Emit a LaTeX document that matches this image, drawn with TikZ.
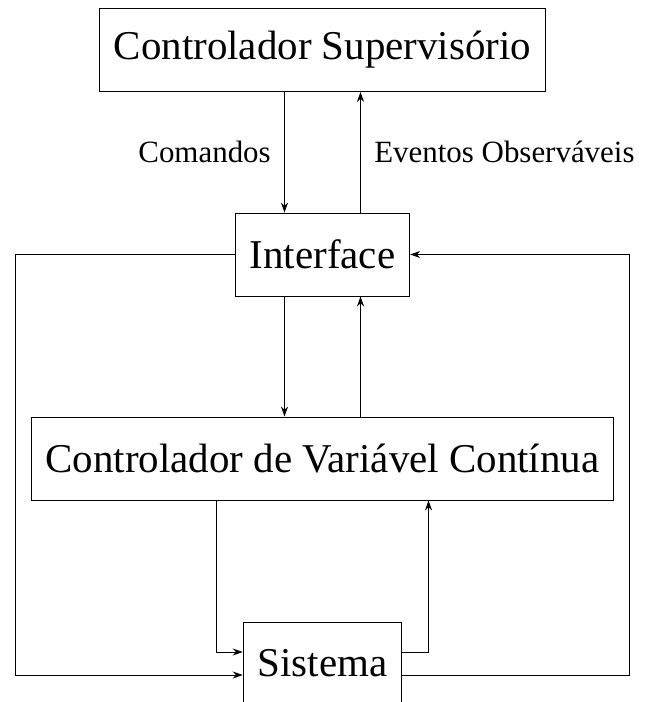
\documentclass[tikz,border=0pt]{standalone}
\usepackage{fontspec}
\setmainfont{LiberationSerif}[Extension=.ttf, UprightFont=*-Regular, BoldFont=*-Bold, ItalicFont=*-Italic]
\usetikzlibrary{arrows.meta}
\tikzset{
  blk/.style={draw, line width=0.5pt, inner xsep=0.29cm, minimum height=1.66cm,
    font=\fontsize{23.3}{28}\selectfont},
  lbl/.style={font=\fontsize{17.6}{21}\selectfont},
  >={Stealth[length=2mm,width=1.4mm]}
}
\begin{document}
\begin{tikzpicture}
      \useasboundingbox (0,0) rectangle (12.92,-14.04);
      \draw
        (6.45,-1.0) node[blk] (sup){Controlador Supervisório}
        (6.45,-5.09) node[blk] (int){Interface}
        (6.45,-9.17) node[blk] (cvc){Controlador de Variável Contínua}
        (6.45,-13.27) node[blk] (sis){Sistema};
      \coordinate (lft) at (0.3,-13.5);
      \coordinate (rgt) at (12.58,-13.5);
      \begin{scope}[->, line width=0.5pt]
        \draw ([xshift=-0.76cm]sup.south) to node[lbl, midway, left=0.15cm]{Comandos} ([xshift=-0.76cm]int.north);
        \draw ([xshift=0.76cm]int.north) to node[lbl, midway, right=0.15cm]{Eventos Observáveis} ([xshift=0.76cm]sup.south);
        \draw ([xshift=-0.76cm]int.south) to ([xshift=-0.76cm]cvc.north);
        \draw ([xshift=0.76cm]cvc.north) to ([xshift=0.76cm]int.south);
        \draw ([xshift=-2.13cm]cvc.south) |- ([yshift=0.23cm]sis.west);
        \draw ([yshift=0.23cm]sis.east) -| ([xshift=2.12cm]cvc.south);
        \draw (int.west) -| (lft) |- ([yshift=-0.23cm]sis.west);
        \draw ([yshift=-0.23cm]sis.east) -| (rgt) |- (int.east);
      \end{scope}
    \end{tikzpicture}
\end{document}
